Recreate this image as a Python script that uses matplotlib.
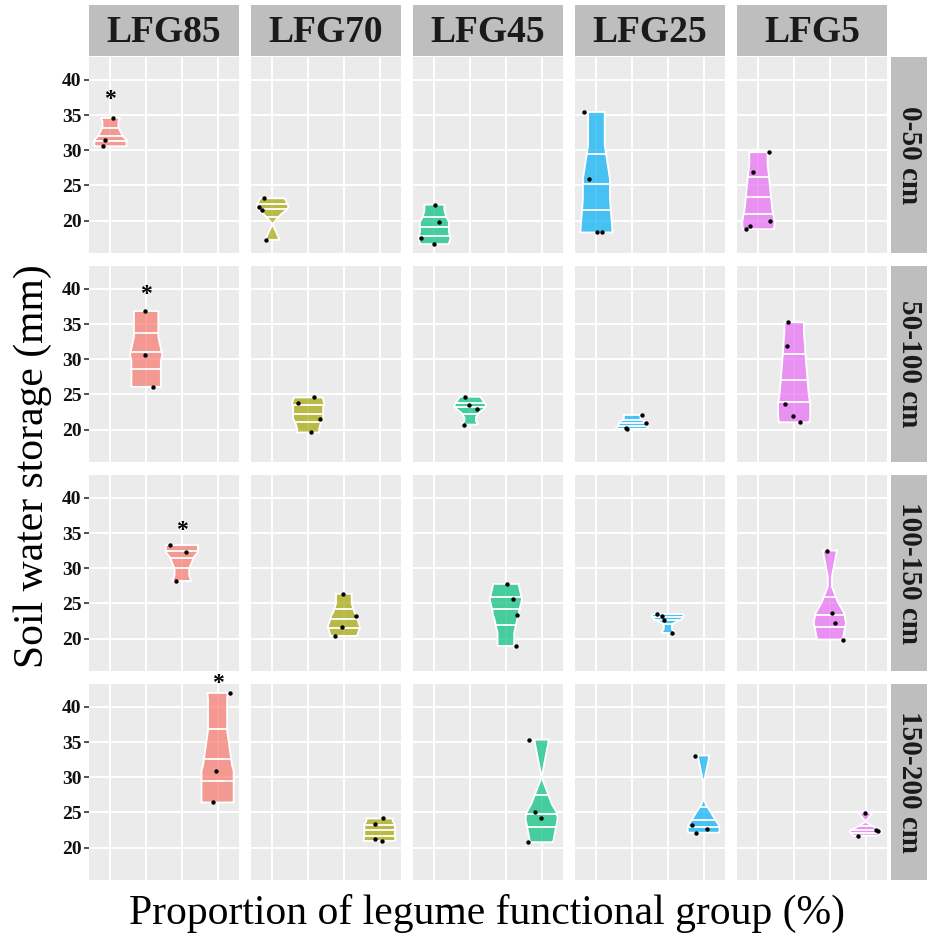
import numpy as np
import matplotlib

matplotlib.use("Agg")
import matplotlib.pyplot as plt

GROUPS = ["LFG85", "LFG70", "LFG45", "LFG25", "LFG5"]
DEPTHS = ["0-50 cm", "50-100 cm", "100-150 cm", "150-200 cm"]
COLORS = ["#F8766D", "#A3A500", "#00BF7D", "#00B0F6", "#E76BF3"]

# soil water storage (mm), one list per depth
LFG85 = [[34.58, 31.46, 30.56], [36.84, 30.63, 26.07],
         [33.28, 32.29, 28.19], [41.98, 30.92, 26.41]]
LFG70 = [[23.16, 21.98, 21.56, 17.26], [24.56, 23.71, 21.51, 19.58],
         [26.36, 23.20, 21.65, 20.38], [24.13, 23.34, 21.22, 20.94]]
LFG45 = [[22.26, 19.80, 17.54, 16.65], [24.66, 23.43, 22.92, 20.70],
         [27.77, 25.60, 23.39, 18.95], [35.34, 25.04, 24.14, 20.76]]
LFG25 = [[35.43, 25.89, 18.30, 18.39], [22.07, 20.99, 20.18, 20.10],
         [23.48, 23.25, 22.69, 20.80], [33.08, 23.20, 22.58, 22.11]]
LFG5 = [[29.71, 26.88, 19.95, 19.24, 18.77], [35.24, 31.86, 23.67, 21.88, 21.03],
        [32.51, 23.61, 22.26, 19.86], [24.94, 22.54, 22.31, 21.69]]

# horizontal jitter of the dots (x units)
LFG85_JIT = [[0.07, -0.14, -0.20], [-0.04, -0.04, 0.19],
             [-0.33, 0.12, -0.16], [0.35, -0.04, -0.13]]
LFG70_JIT = [[-0.23, -0.39, -0.30, -0.17], [0.15, -0.28, 0.34, 0.07],
             [-0.03, 0.34, -0.06, -0.26], [0.10, -0.13, -0.13, 0.06]]
LFG45_JIT = [[0.02, 0.14, -0.38, 0.0], [-0.14, -0.03, 0.20, -0.17],
             [0.03, 0.19, 0.31, 0.29], [-0.34, -0.19, -0.03, -0.38]]
LFG25_JIT = [[-0.34, -0.21, 0.01, 0.17], [0.28, 0.38, -0.18, -0.15],
             [-0.29, -0.17, -0.10, 0.13], [-0.23, -0.31, 0.09, -0.22]]
LFG5_JIT = [[0.29, -0.16, 0.33, -0.25, -0.36], [-0.16, -0.21, -0.27, -0.03, 0.16],
            [-0.09, 0.06, 0.14, 0.37], [-0.01, 0.30, 0.36, -0.21]]

DATA = [LFG85, LFG70, LFG45, LFG25, LFG5]
JITTER = [LFG85_JIT, LFG70_JIT, LFG45_JIT, LFG25_JIT, LFG5_JIT]

# significance marks above LFG85
STAR_Y = [37.2, 39.15, 35.3, 43.35]

QUANTILES = [0.25, 0.5, 0.75]
SERIF = ["Liberation Serif", "DejaVu Serif"]


def violin(vals):
    # trimmed violin, triangular kernel, nrd0 bandwidth (like ggplot/R)
    v = np.sort(np.asarray(vals, float))
    n = len(v)
    sd = v.std(ddof=1)
    q25, q75 = np.percentile(v, [25, 75])
    lo = min(sd, (q75 - q25) / 1.34)
    if lo <= 0:
        lo = sd
    bw = 0.9 * lo * n ** -0.2
    a = bw * np.sqrt(6)
    y = np.linspace(v.min(), v.max(), 512)
    u = np.abs(y[:, None] - v[None, :]) / a
    dens = np.clip(1 - u, 0, None).sum(1)
    return y, dens / dens.max(), dens


W, H = 928, 944
fig = plt.figure(figsize=(W / 100, H / 100), dpi=100)

allv = np.concatenate([np.ravel(np.concatenate(g)) for g in DATA])
ymin, ymax = allv.min(), allv.max()
pad = 0.05 * (ymax - ymin)


def fbox(x0, y0, w, h):
    return [x0 / W, 1 - (y0 + h) / H, w / W, h / H]


for r, depth in enumerate(DEPTHS):
    for c, grp in enumerate(GROUPS):
        x0 = 89 + c * 162
        y0 = 57 + r * 209
        ax = fig.add_axes(fbox(x0, y0, 150, 196))
        ax.set_facecolor("#EBEBEB")
        ax.set_xlim(0.4, 4.6)
        ax.set_ylim(ymin - pad, ymax + pad)
        ax.set_xticks([1, 2, 3, 4])
        ax.set_yticks([20, 25, 30, 35, 40])
        ax.grid(color="white", linewidth=1.4)
        ax.set_axisbelow(True)
        for s in ax.spines.values():
            s.set_visible(False)
        ax.tick_params(axis="x", length=0, labelbottom=False)
        if c == 0:
            ax.tick_params(axis="y", length=3.5, width=1.2, color="#333333", pad=2)
            for lab in ax.get_yticklabels():
                lab.set_fontfamily(SERIF)
                lab.set_fontweight("bold")
                lab.set_fontsize(14)
                lab.set_color("#111111")
        else:
            ax.tick_params(axis="y", length=0, labelleft=False)

        vals = DATA[c][r]
        xc = r + 1
        y, w, dens = violin(vals)
        half = w * 0.45
        xs = np.concatenate([xc - half, (xc + half)[::-1]])
        ys = np.concatenate([y, y[::-1]])
        ax.fill(xs, ys, facecolor=COLORS[c], alpha=0.7, edgecolor="none", zorder=2)
        ax.fill(xs, ys, facecolor="none", edgecolor="white", linewidth=1.3, zorder=3)
        ecdf = np.cumsum(dens) / dens.sum()
        qy = np.interp(QUANTILES, ecdf, y)
        qw = np.interp(qy, y, half)
        for yy, hw in zip(qy, qw):
            ax.plot([xc - hw, xc + hw], [yy, yy], color="white", linewidth=1.3, zorder=3)

        jx = xc + np.asarray(JITTER[c][r])
        ax.scatter(jx, vals, s=10, color="black", zorder=4, linewidths=0)

        if c == 0:
            ax.text(xc, STAR_Y[r], "*", ha="center", va="center", fontsize=17,
                    fontweight="bold", family=SERIF, clip_on=False, zorder=5)

        if r == 0:
            sax = fig.add_axes(fbox(x0, 5, 150, 51))
            sax.set_facecolor("#BEBEBE")
            sax.set_xticks([])
            sax.set_yticks([])
            for s in sax.spines.values():
                s.set_visible(False)
            sax.text(0.5, 0.47, grp, ha="center", va="center", fontsize=27,
                     fontweight="bold", family=SERIF, color="#1a1a1a",
                     transform=sax.transAxes)

    rax = fig.add_axes(fbox(891, 57 + r * 209, 37, 196))
    rax.set_facecolor("#BEBEBE")
    rax.set_xticks([])
    rax.set_yticks([])
    for s in rax.spines.values():
        s.set_visible(False)
    rax.text(0.5, 0.5, depth, ha="center", va="center", rotation=-90, fontsize=21,
             fontweight="bold", family=SERIF, color="#1a1a1a", transform=rax.transAxes)

fig.text(33 / W, 1 - 466 / H, "Soil water storage (mm)", rotation=90, ha="center",
         va="center", fontsize=30, family=SERIF)
fig.text(487 / W, 1 - 913 / H, "Proportion of legume functional group (%)",
         ha="center", va="center", fontsize=30, family=SERIF)

fig.savefig("out.png", dpi=100)
